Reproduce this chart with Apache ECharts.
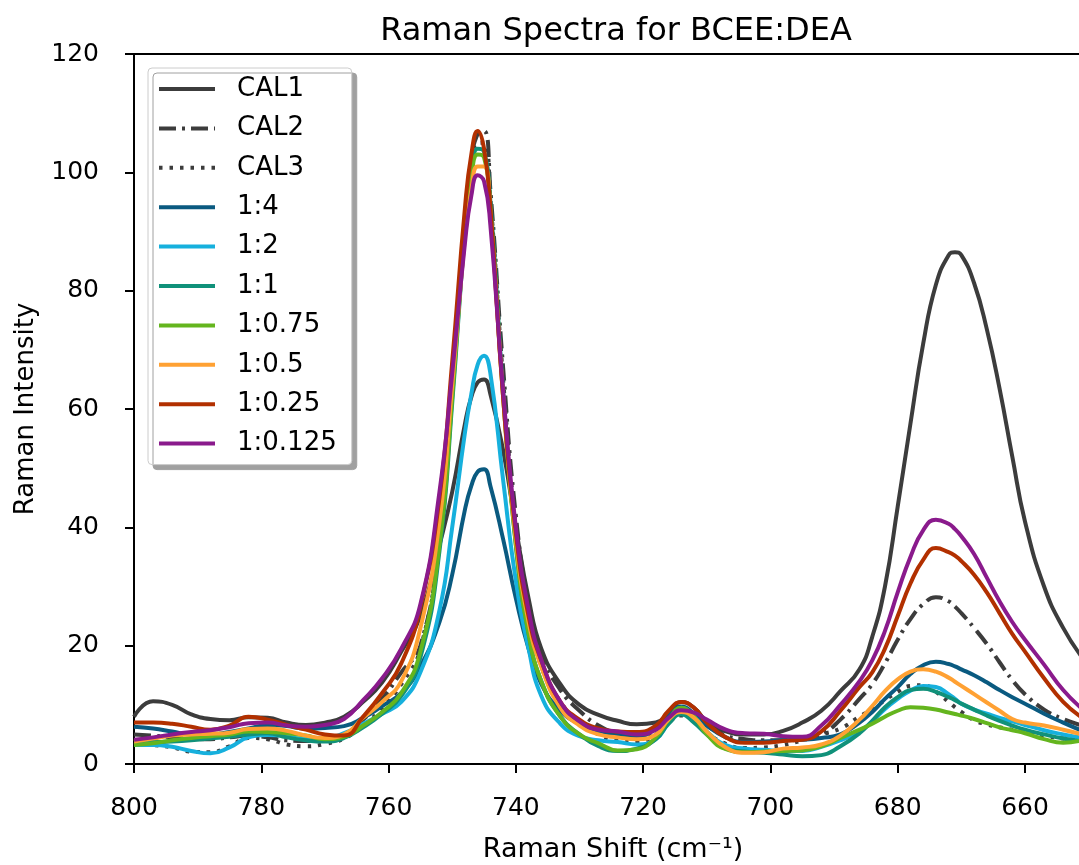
<!DOCTYPE html>
<html>
<head>
<meta charset="utf-8">
<script src="https://cdn.jsdelivr.net/npm/echarts@6/dist/echarts.min.js"></script>
<style>
  html, body { margin: 0; padding: 0; background: #fff; }
  #main { width: 1079px; height: 865px; }
</style>
</head>
<body>
<div id="main"></div>
<script>
// Raman shift (cm-1), shared by every spectrum
var shift = [800, 797, 794, 791, 788, 785, 782, 779, 776, 773, 770, 767, 764, 761, 758, 755, 752, 750, 748, 747,
             746, 745, 744, 742, 740, 738, 736, 733, 730, 727, 724, 721, 718, 716, 714, 712, 710, 707, 704, 701,
             698, 695, 692, 689, 686, 684, 682, 680, 678, 676, 674, 672, 671, 670, 668, 666, 664, 662, 660, 657, 654, 651];

var cal1 = [8.0, 10.6, 10.0, 8.4, 7.6, 7.4, 7.9, 7.8, 7.0, 6.6, 7.0, 8.0, 10.5, 13.8, 19.0, 25.0, 37.0, 46.0, 57.5, 62.0,
            64.5, 65.0, 62.5, 53.0, 40.0, 28.0, 19.5, 13.5, 10.0, 8.3, 7.3, 6.7, 7.0, 8.6, 10.5, 9.5, 7.2, 5.5, 5.0, 5.0,
            5.6, 7.0, 9.0, 12.3, 16.0, 21.5, 30.0, 43.5, 57.5, 71.0, 81.0, 86.0, 86.5, 86.0, 81.3, 73.5, 63.5, 52.0, 41.0, 30.0, 23.0, 18.0];
var cal2 = [5.0, 4.8, 4.5, 4.3, 4.2, 4.5, 4.8, 4.5, 4.0, 3.9, 4.1, 5.0, 7.5, 11.0, 15.5, 20.0, 38.0, 64.0, 92.0, 102.0,
            106.5, 107.0, 97.0, 67.0, 42.0, 27.0, 18.5, 12.5, 9.0, 6.5, 5.2, 4.8, 5.5, 7.2, 8.8, 8.2, 6.5, 4.8, 4.2, 4.0,
            4.0, 4.2, 5.0, 7.5, 11.0, 13.5, 17.0, 21.0, 24.5, 27.0, 28.2, 27.5, 26.6, 25.5, 23.0, 20.3, 17.2, 14.2, 11.8, 9.2, 7.6, 6.5];
var cal3 = [3.5, 3.2, 2.8, 2.1, 2.0, 3.0, 4.4, 4.2, 3.3, 3.0, 3.4, 4.3, 6.5, 9.5, 13.5, 19.5, 38.0, 63.0, 91.0, 101.0,
            105.0, 105.0, 95.5, 65.0, 40.0, 25.0, 16.5, 10.5, 7.0, 5.0, 4.0, 3.8, 5.0, 7.0, 8.2, 7.2, 5.3, 3.4, 2.7, 2.8,
            3.2, 4.0, 5.0, 6.0, 8.0, 9.3, 10.8, 12.2, 13.2, 13.3, 12.2, 10.5, 9.6, 8.8, 7.4, 6.7, 6.2, 5.8, 5.4, 4.8, 4.3, 4.0];
var r1_4 = [6.3, 6.0, 5.5, 5.0, 5.0, 5.4, 6.0, 6.6, 6.4, 6.0, 6.1, 6.4, 7.8, 9.8, 12.0, 16.5, 24.0, 32.0, 43.0, 47.0,
            49.4, 49.8, 47.0, 38.0, 28.0, 19.5, 13.5, 9.0, 6.8, 5.6, 5.0, 4.7, 6.0, 8.3, 9.7, 8.5, 6.5, 4.5, 3.7, 3.8,
            4.0, 4.1, 4.4, 5.0, 7.0, 8.8, 11.0, 13.0, 15.2, 16.7, 17.3, 16.9, 16.5, 16.0, 15.0, 13.8, 12.5, 11.3, 10.2, 8.5, 7.0, 5.6];
var r1_2 = [3.2, 3.2, 2.9, 2.2, 1.8, 2.8, 4.5, 4.9, 4.7, 4.2, 4.3, 5.2, 6.8, 8.5, 10.5, 15.5, 26.0, 40.0, 56.0, 62.5,
            67.5, 69.0, 66.0, 48.0, 31.0, 19.5, 11.5, 6.8, 4.7, 4.0, 3.7, 3.3, 4.2, 7.0, 9.5, 8.0, 5.5, 3.2, 2.6, 2.4,
            2.2, 2.2, 2.9, 4.0, 5.5, 7.2, 9.3, 11.0, 12.4, 13.2, 13.0, 11.8, 11.0, 10.2, 9.2, 8.5, 7.8, 7.2, 6.6, 5.7, 5.0, 4.4];
var r1_1 = [3.7, 3.7, 3.8, 4.0, 4.3, 4.6, 5.0, 5.2, 4.5, 4.0, 3.8, 4.4, 6.2, 8.5, 11.5, 18.0, 36.0, 61.0, 90.0, 100.0,
            104.0, 103.5, 95.0, 63.0, 37.0, 22.0, 14.0, 8.0, 5.0, 3.0, 2.2, 2.6, 4.2, 6.8, 8.4, 7.0, 5.0, 2.6, 2.1, 1.9,
            1.6, 1.3, 1.5, 3.0, 5.2, 7.3, 9.6, 11.3, 12.5, 12.7, 12.2, 11.3, 10.8, 10.2, 9.2, 8.2, 7.3, 6.5, 5.8, 5.0, 4.3, 3.8];
var r1_075 = [3.2, 3.5, 4.0, 4.4, 4.7, 5.0, 5.5, 5.4, 5.2, 4.8, 4.2, 4.6, 6.5, 8.8, 12.0, 19.0, 37.0, 62.0, 90.0, 99.0,
              103.0, 102.5, 94.0, 62.0, 37.0, 22.0, 14.0, 8.0, 5.0, 3.5, 2.3, 2.5, 4.5, 7.5, 9.5, 8.0, 5.0, 2.5, 2.0, 2.1,
              2.2, 2.3, 3.0, 4.4, 5.8, 6.8, 8.0, 9.0, 9.6, 9.5, 9.2, 8.7, 8.45, 8.2, 7.6, 6.9, 6.2, 5.7, 5.2, 4.2, 3.6, 4.0];
var r1_05 = [3.8, 4.3, 4.8, 5.0, 5.1, 5.3, 5.9, 6.0, 5.6, 4.8, 4.4, 5.0, 7.8, 10.5, 14.0, 23.0, 41.0, 64.0, 89.0, 97.0,
             101.0, 101.0, 93.0, 62.0, 38.0, 24.0, 16.4, 9.5, 6.5, 5.0, 4.5, 4.2, 5.0, 7.5, 8.8, 7.8, 5.5, 2.8, 1.9, 2.0,
             2.6, 2.8, 3.3, 4.8, 7.5, 9.8, 12.3, 14.3, 15.6, 16.0, 15.6, 14.6, 13.9, 13.2, 11.8, 10.4, 9.0, 7.6, 7.0, 6.5, 5.8, 5.0];
var r1_025 = [7.0, 7.0, 6.8, 6.3, 5.8, 6.5, 8.0, 7.5, 6.6, 5.8, 5.0, 4.8, 8.0, 12.0, 17.0, 26.5, 45.0, 68.0, 94.0, 103.0,
              107.0, 104.0, 94.0, 62.0, 39.0, 25.0, 17.5, 10.5, 7.5, 6.0, 5.5, 5.4, 6.5, 9.0, 10.5, 9.5, 7.0, 4.5, 3.6, 3.6,
              3.9, 4.1, 5.5, 9.0, 13.0, 15.5, 19.5, 25.0, 30.5, 34.5, 36.5, 35.8, 35.2, 34.3, 32.0, 29.0, 25.5, 22.0, 19.0, 14.5, 10.5, 7.8];
var r1_0125 = [4.1, 4.5, 5.0, 5.4, 5.7, 6.2, 6.9, 7.0, 6.5, 6.3, 6.6, 7.6, 10.8, 14.5, 19.5, 27.0, 46.0, 66.0, 88.0, 96.0,
               99.5, 98.5, 91.0, 63.0, 40.0, 26.0, 17.6, 10.5, 7.2, 5.8, 5.5, 5.0, 5.8, 7.8, 9.1, 8.7, 7.5, 5.8, 5.2, 5.1,
               4.7, 4.6, 6.5, 10.0, 14.0, 17.5, 22.5, 29.0, 35.0, 39.5, 41.3, 40.6, 39.7, 38.5, 35.5, 31.5, 27.5, 24.0, 21.0, 16.8, 12.5, 9.3];

var xTicks = [660, 680, 700, 720, 740, 760, 780, 800];

var font = 'DejaVu Sans';

function pairs(ys) {
  var out = [];
  for (var i = 0; i < shift.length; i++) out.push([shift[i], ys[i]]);
  return out;
}

var spectra = [
  {name: 'CAL1',     data: cal1,    color: '#3c3c3c', type: 'solid'},
  {name: 'CAL2',     data: cal2,    color: '#3c3c3c', type: [17, 6, 3, 6]},
  {name: 'CAL3',     data: cal3,    color: '#3c3c3c', type: [3.5, 7]},
  {name: '1:4',      data: r1_4,    color: '#0a5a80', type: 'solid'},
  {name: '1:2',      data: r1_2,    color: '#16b0dd', type: 'solid'},
  {name: '1:1',      data: r1_1,    color: '#10917a', type: 'solid'},
  {name: '1:0.75',   data: r1_075,  color: '#64b51e', type: 'solid'},
  {name: '1:0.5',    data: r1_05,   color: '#ffa133', type: 'solid'},
  {name: '1:0.25',   data: r1_025,  color: '#b23000', type: 'solid'},
  {name: '1:0.125',  data: r1_0125, color: '#8a1a8c', type: 'solid'}
];

var series = spectra.map(function (s) {
  return {
    name: s.name,
    type: 'line',
    data: pairs(s.data),
    symbol: 'none',
    smooth: 0.5,
    color: s.color,
    lineStyle: {color: s.color, width: 4, type: s.type, cap: 'butt'}
  };
});

var myChart = echarts.init(document.getElementById('main'));
var option = {
  animation: false,
  backgroundColor: '#fff',
  title: {
    text: 'Raman Spectra for BCEE:DEA',
    left: 611, top: 11, textAlign: 'center',
    textStyle: {fontFamily: font, fontSize: 32, fontWeight: 'normal', color: '#000'}
  },
  legend: {
    orient: 'vertical',
    left: 148, top: 68,
    padding: [8, 15, 8, 9],
    itemWidth: 56, itemHeight: 14, itemGap: 13.4,
    backgroundColor: '#fff',
    borderColor: '#cccccc', borderWidth: 1, borderRadius: 4,
    shadowColor: '#a0a0a0', shadowBlur: 0, shadowOffsetX: 5, shadowOffsetY: 5,
    itemStyle: {opacity: 0},
    lineStyle: {width: 4},
    textStyle: {fontFamily: font, fontSize: 26, color: '#000', padding: [0, 0, 0, 17]},
    data: spectra.map(function (s) { return s.name; })
  },
  grid: {
    left: 134, top: 54, width: 958, bottom: 101,
    outerBoundsMode: 'none',
    containLabel: false,
    show: true, borderColor: '#000', borderWidth: 2, backgroundColor: 'transparent'
  },
  xAxis: {
    type: 'value',
    inverse: true,
    min: 649.47, max: 800,
    name: 'Raman Shift (cm\u207B\u00B9)',
    nameLocation: 'middle', nameGap: 72,
    nameTextStyle: {fontFamily: font, fontSize: 27, color: '#000'},
    axisLine: {lineStyle: {color: '#000', width: 2}},
    axisTick: {show: true, inside: false, length: 9, lineStyle: {color: '#000', width: 2}, customValues: xTicks},
    axisLabel: {fontFamily: font, fontSize: 25, color: '#000', margin: 32, customValues: xTicks},
    splitLine: {show: false}
  },
  yAxis: {
    type: 'value',
    min: 0, max: 120, interval: 20,
    name: 'Raman Intensity',
    nameLocation: 'middle', nameGap: 95,
    nameTextStyle: {fontFamily: font, fontSize: 26, color: '#000'},
    axisLine: {show: true, lineStyle: {color: '#000', width: 2}},
    axisTick: {show: true, inside: false, length: 9, lineStyle: {color: '#000', width: 2}},
    axisLabel: {fontFamily: font, fontSize: 25, color: '#000', margin: 35},
    splitLine: {show: false}
  },
  series: series
};
myChart.setOption(option);
</script>
</body>
</html>
